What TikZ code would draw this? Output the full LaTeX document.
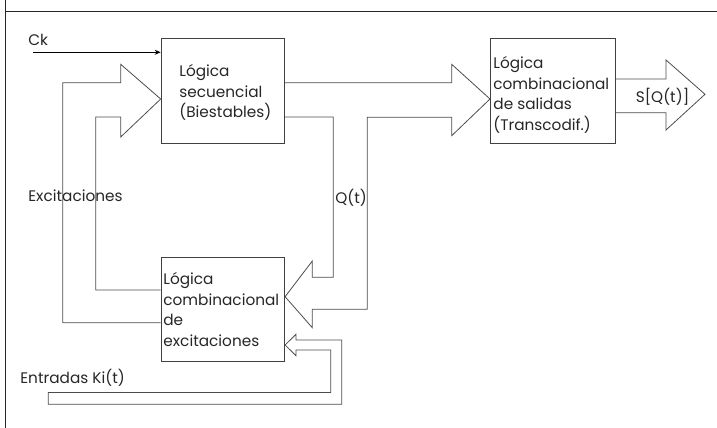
\documentclass[tikz,border=0pt]{standalone}
\usepackage{fontspec}
\setmainfont{Poppins}
\usetikzlibrary{arrows.meta}
\begin{document}
\begin{tikzpicture}[x=1pt,y=-1pt,line width=0.8pt,
  box/.style={draw=black!75,anchor=north west,inner sep=0pt},
  lbl/.style={font=\fontsize{15.3}{20.5}\selectfont,align=left,anchor=west,inner sep=0pt,text=black!85},
  bus/.style={draw=black!70,line join=miter}]
\useasboundingbox (0,0) rectangle (717,428);
% frame
\draw[black!85] (5,0) -- (5,428);
\draw[black!85] (5,11) -- (717,11);
% boxes
\node[box,minimum width=123.6pt,minimum height=104.4pt] (seq) at (160.7,38.3) {};
\node[box,minimum width=123.6pt,minimum height=104.6pt] (exc) at (160.7,256.7) {};
\node[box,minimum width=125pt,minimum height=105pt] (out) at (490,38.3) {};
% box texts
\node[lbl] (seqt) at (179,92.5) {Lógica\\secuencial\\(Biestables)};
\node[lbl] (exct) at (163,309.5) {Lógica\\combinacional\\de\\excitaciones};
\node[lbl] (outt) at (493,95) {Lógica\\combinacional\\de salidas\\(Transcodif.)};
% labels
\node[lbl] (ck) at (28,40) {Ck};
\node[lbl] (excl) at (28,196) {Excitaciones};
\node[lbl] (ql) at (335,198) {Q(t)};
\node[lbl] (entl) at (20,378) {Entradas Ki(t)};
\node[lbl,anchor=center] (sl) at (662.5,96.7) {S[Q(t)]};
% clock
\coordinate (ckstart) at (33,52.3);
\draw[black,-{Stealth[length=6pt,width=5pt]}] (ckstart) -- (ckstart -| seq.west);
% excitation bus into sequential logic
\draw[bus] (exc.west |- 0,322.7) -- (62.7,322.7) -- (62.7,82.7) -- (120.7,82.7) -- (120.7,64.3)
  -- (seq.west |- 0,99) -- (120.7,137) -- (120.7,117) -- (95.7,117) -- (95.7,290) -- (exc.west |- 0,290);
% state bus Q(t)
\draw[bus] (seq.east |- 0,82.7) -- (451.7,82.7) -- (451.7,64.3) -- (out.west |- 0,99) -- (451.7,135.7)
  -- (451.7,117.3) -- (367.3,117.3) -- (367.3,309.3) -- (312.3,309.3) -- (312.3,327.7)
  -- (exc.east |- 0,296.7) -- (312.3,261) -- (312.3,277.3) -- (333.3,277.3) -- (333.3,117) -- (seq.east |- 0,117);
% output bus
\draw[bus] (out.east |- 0,79) -- (666,79) -- (666,60) -- (705,94.3) -- (666,130) -- (666,112.7) -- (out.east |- 0,112.7);
% inputs bus
\draw[bus] (exc.east |- 0,345) -- (296,334.3) -- (296,340) -- (341.7,340) -- (341.7,404.3) -- (48.3,404.3)
  -- (48.3,392.5) -- (330.7,392.5) -- (330.7,350) -- (296,350) -- (296,355.7) -- cycle;
\end{tikzpicture}
\end{document}
